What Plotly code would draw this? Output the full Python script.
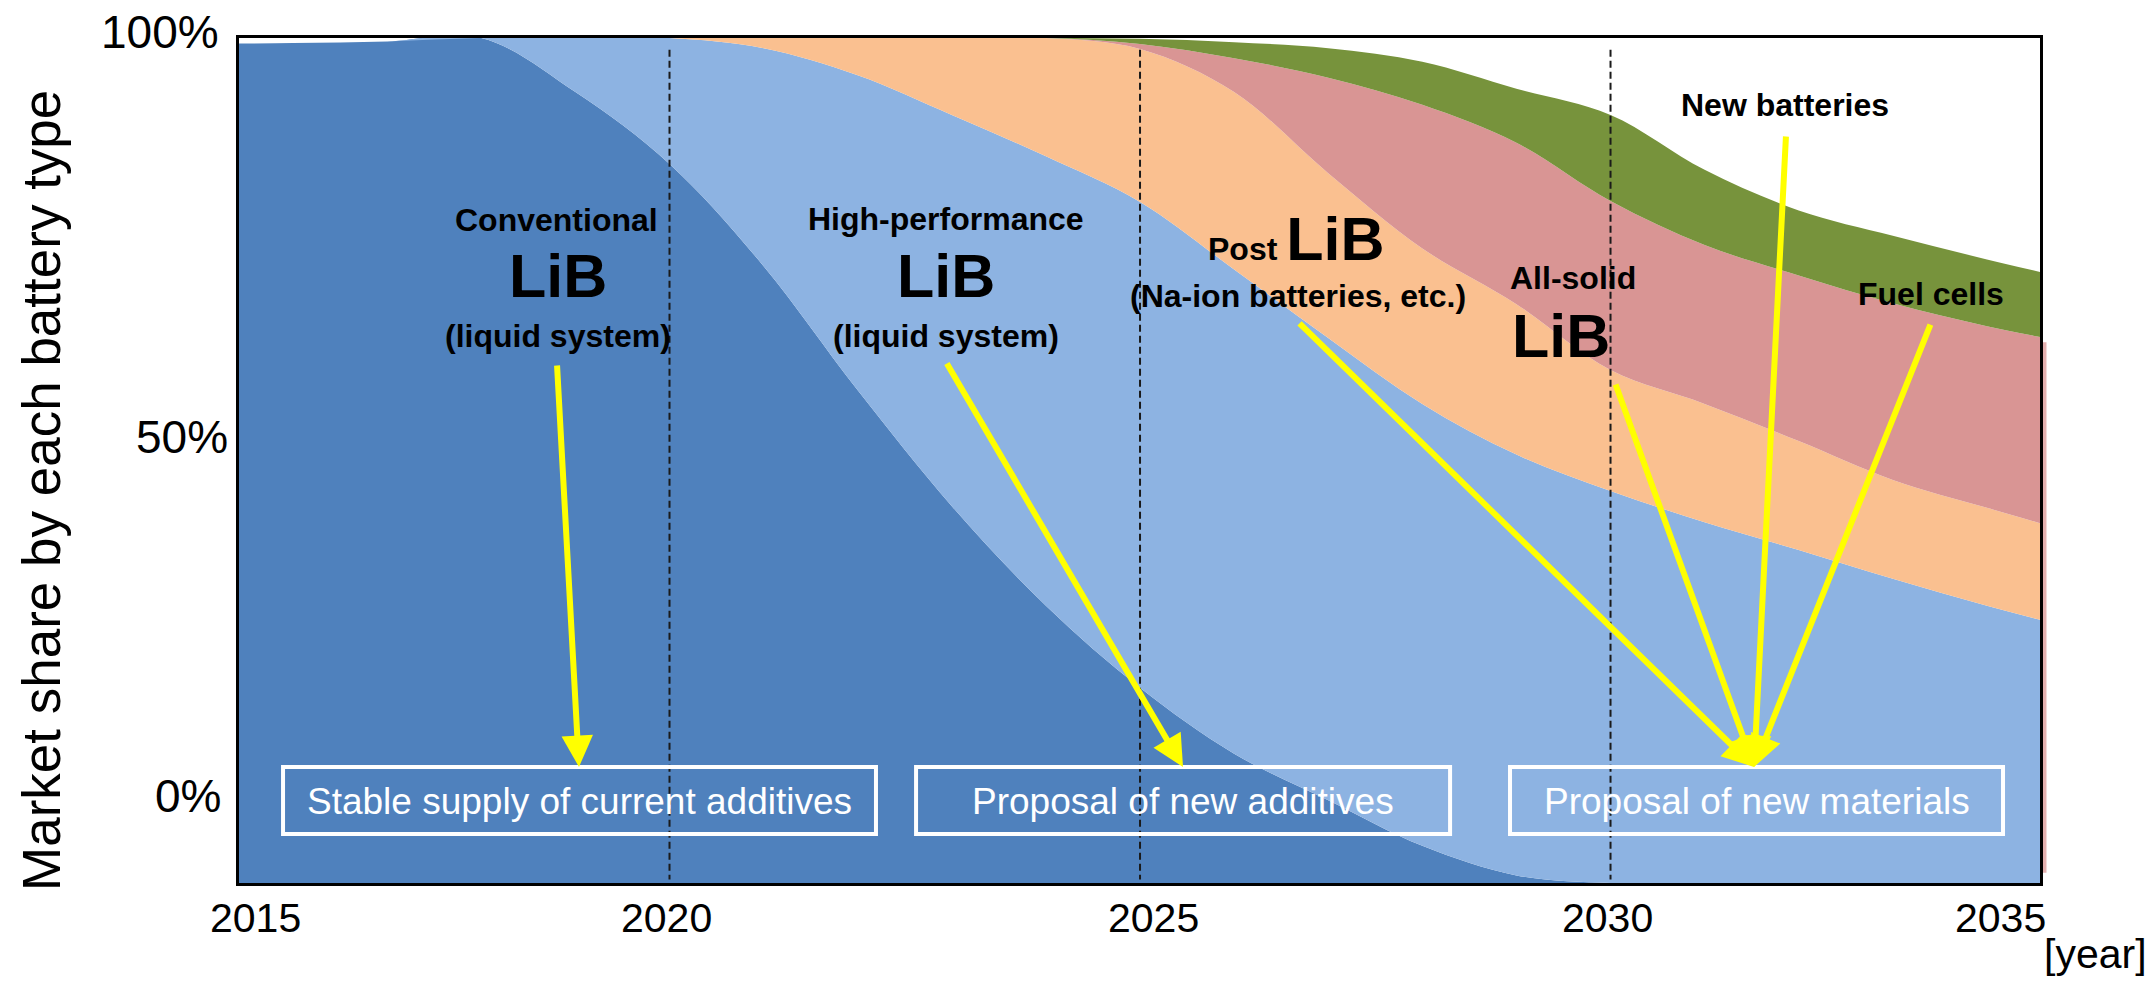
import plotly.graph_objects as go

# Market share (%) by battery type, per year
years = list(range(2015, 2036))
conventional_lib = [99.3, 99.4, 99.6, 100.0, 93.6, 85.1, 73.0, 58.3, 44.6, 32.8, 23.1,
                    15.3, 9.8, 4.4, 0.9, 0, 0, 0, 0, 0, 0]
high_perf_lib = [0, 0, 0, 0, 6.4, 14.9, 25.8, 37.3, 46.3, 53.2, 57.5,
                 57.3, 54.7, 52.3, 49.8, 46.4, 42.7, 39.4, 36.0, 32.8, 29.9]
post_lib = [0, 0, 0, 0, 0, 0, 1.2, 4.4, 9.1, 14.0, 18.1,
            21.0, 19.5, 18.4, 17.8, 14.3, 14.0, 12.9, 11.7, 11.6, 11.3]
all_solid_lib = [0, 0, 0, 0, 0, 0, 0, 0, 0, 0, 0.6,
                 4.0, 11.3, 17.0, 19.1, 20.0, 18.8, 19.6, 20.9, 21.5, 22.5]
fuel_cells = [0, 0, 0, 0, 0, 0, 0, 0, 0, 0, 0.6,
              1.9, 3.5, 5.1, 6.4, 10.2, 8.9, 7.7, 8.0, 7.9, 7.5]

series = [
    ("Conventional LiB", conventional_lib, "#4F81BD"),
    ("High-performance LiB", high_perf_lib, "#8DB3E2"),
    ("Post LiB", post_lib, "#FAC090"),
    ("All-solid LiB", all_solid_lib, "#D99594"),
    ("Fuel cells", fuel_cells, "#77933C"),
]

# Axis tick labels
x_tick_text = ["2015", "2020", "2025", "2030", "2035"]
x_tick_pos = [2015.595, 2019.963, 2025.138, 2029.963, 2034.14]
y_tick_text = ["100%", "50%", "0%"]
milestones = [2020, 2025, 2030]

FONT = "Liberation Sans, Arial, sans-serif"

fig = go.Figure()
for name, vals, color in series:
    fig.add_trace(go.Scatter(
        x=years, y=vals, name=name, stackgroup="share",
        mode="lines", line=dict(width=0, shape="spline", smoothing=1.0),
        fillcolor=color, hoverinfo="x+y+name",
    ))

shapes = []
# dashed milestone lines
for yr in milestones:
    shapes.append(dict(type="line", xref="x", yref="y", x0=yr, x1=yr, y0=98.6, y1=0.4,
                       line=dict(color="#1a1a1a", width=2, dash="7px,4px")))

# white-outlined boxes along the bottom
boxes = [
    (2015.893, 2022.194, "Stable supply of current additives"),
    (2022.620, 2028.295, "Proposal of new additives"),
    (2028.932, 2034.171, "Proposal of new materials"),
]
annotations = []
for x0, x1, label in boxes:
    shapes.append(dict(type="rect", xref="x", yref="y", x0=x0, x1=x1, y0=5.80, y1=13.73,
                       line=dict(color="white", width=4), fillcolor="rgba(0,0,0,0)"))
    annotations.append(dict(x=(x0 + x1) / 2, y=9.65, xref="x", yref="y", text=label,
                            showarrow=False, font=dict(family=FONT, size=37, color="white"),
                            xanchor="center", yanchor="middle"))

# thin pink sliver just outside the right frame
shapes.append(dict(type="rect", xref="paper", yref="paper", x0=1.0009, x1=1.0036,
                   y0=0.012, y1=0.640, line=dict(width=0),
                   fillcolor="rgba(217,149,148,0.75)", layer="below"))


def label(x, y, text, size):
    annotations.append(dict(x=x, y=y, xref="x", yref="y", text=text, showarrow=False,
                            font=dict(family=FONT, size=size, color="black"),
                            xanchor="center", yanchor="middle"))


label(2018.804, 78.46, "<b>Conventional</b>", 32)
label(2018.815, 71.83, "<b>LiB</b>", 61)
label(2018.815, 64.73, "<b>(liquid system)</b>", 32)
label(2022.938, 78.58, "<b>High-performance</b>", 32)
label(2022.938, 71.83, "<b>LiB</b>", 61)
label(2022.938, 64.73, "<b>(liquid system)</b>", 32)
label(2026.668, 76.21, "<b>Post <span style='font-size:61px'>LiB</span></b>", 32)
label(2026.679, 69.47, "<b>(Na-ion batteries, etc.)</b>", 32)
label(2029.602, 71.60, "<b>All-solid</b>", 32)
label(2029.474, 64.73, "<b>LiB</b>", 61)
label(2031.854, 92.07, "<b>New batteries</b>", 32)
label(2033.406, 69.70, "<b>Fuel cells</b>", 32)

# yellow arrows: (tail x, tail y, head x, head y)
arrows = [
    (2018.804, 61.42, 2019.038, 13.73),
    (2022.938, 61.66, 2025.457, 13.73),
    (2026.679, 66.39, 2031.525, 13.73),
    (2030.048, 59.17, 2031.525, 13.73),
    (2031.865, 88.52, 2031.525, 13.73),
    (2033.406, 66.27, 2031.525, 13.73),
]
for ax, ay, hx, hy in arrows:
    annotations.append(dict(x=hx, y=hy, ax=ax, ay=ay, xref="x", yref="y", axref="x", ayref="y",
                            text="", showarrow=True, arrowhead=2, arrowsize=1.05,
                            arrowwidth=6, arrowcolor="#FFFF00", standoff=0, startstandoff=0))

# axis tick labels and titles
for pos, txt in zip(x_tick_pos, x_tick_text):
    annotations.append(dict(x=pos, y=-0.0414, xref="x", yref="paper", text=txt, showarrow=False,
                            font=dict(family=FONT, size=41, color="black"),
                            xanchor="center", yanchor="middle"))
annotations.append(dict(x=1.0605, y=-0.0840, xref="paper", yref="paper", text="[year]",
                        showarrow=False, font=dict(family=FONT, size=41, color="black"),
                        xanchor="right", yanchor="middle"))
for txt, xp, yp in zip(y_tick_text, [-0.0100, -0.0050, -0.0089], [1.0071, 0.5278, 0.1030]):
    annotations.append(dict(x=xp, y=yp, xref="paper", yref="paper", text=txt, showarrow=False,
                            font=dict(family=FONT, size=46, color="black"),
                            xanchor="right", yanchor="middle"))
annotations.append(dict(x=-0.110, y=0.465, xref="paper", yref="paper",
                        text="Market share by each battery type", textangle=-90, showarrow=False,
                        font=dict(family=FONT, size=53, color="black"),
                        xanchor="center", yanchor="middle"))

fig.update_layout(
    width=2156, height=983,
    margin=dict(l=239, r=116, t=38, b=100),
    paper_bgcolor="white", plot_bgcolor="white",
    showlegend=False,
    shapes=shapes, annotations=annotations,
    xaxis=dict(range=[2015.425, 2034.564], showgrid=False, zeroline=False,
               showticklabels=False, ticks="", showline=True, mirror=True,
               linecolor="black", linewidth=3),
    yaxis=dict(range=[0, 100], showgrid=False, zeroline=False,
               showticklabels=False, ticks="", showline=True, mirror=True,
               linecolor="black", linewidth=3),
)

fig.write_html("out.html")
